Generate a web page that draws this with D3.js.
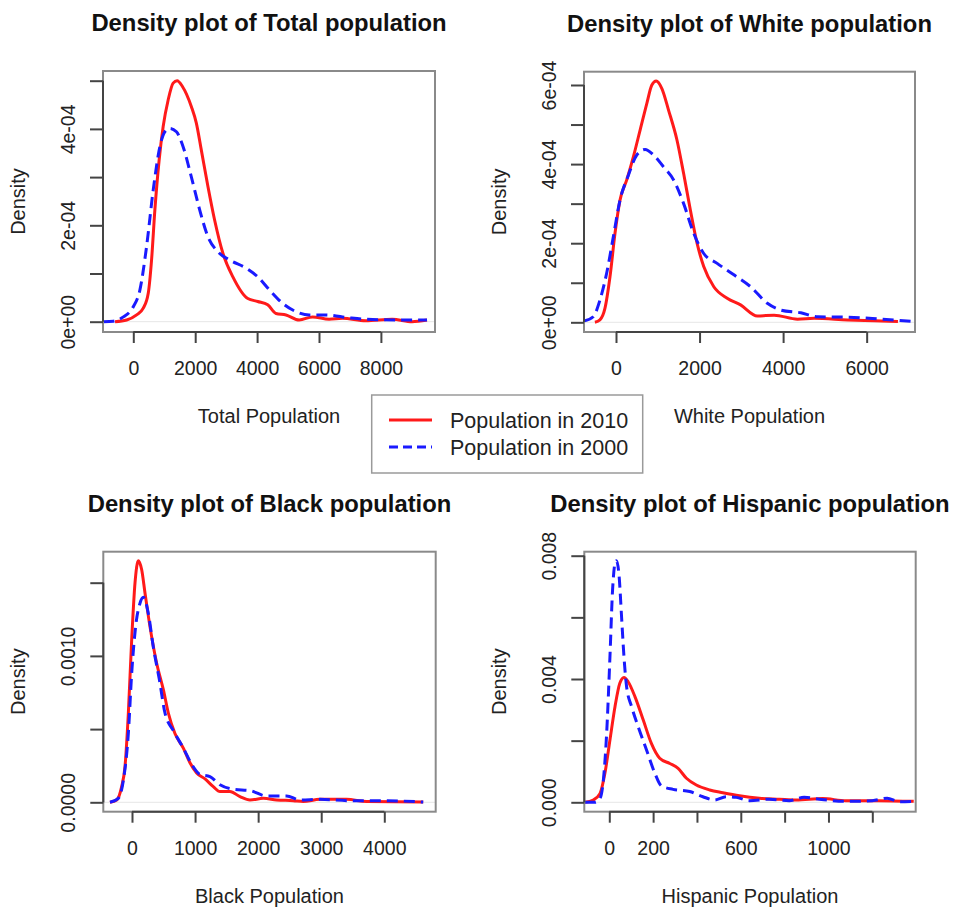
<!DOCTYPE html>
<html>
<head>
<meta charset="utf-8">
<script src="https://cdn.jsdelivr.net/npm/d3@7"></script>
<style>
  html, body { margin: 0; padding: 0; background: #fff; }
  svg { display: block; font-family: "Liberation Sans", Arial, Helvetica, sans-serif; }
</style>
</head>
<body>
<svg id="chart" width="953" height="907"></svg>
<script>
// ---------------- DATA ----------------
const seriesNames = ["Population in 2010", "Population in 2000"];

// Total population density [x, density]
const total2010 = [[-590,0],[-215,0.035e-4],[107,0.14e-4],[322,0.28e-4],[483,0.59e-4],[590,1.28e-4],[697,2.32e-4],[836,3.36e-4],[965,4.05e-4],[1126,4.6e-4],[1287,4.95e-4],[1416,5.0e-4],[1587,4.88e-4],[1877,4.46e-4],[2037,4.12e-4],[2198,3.56e-4],[2413,2.8e-4],[2627,2.11e-4],[2895,1.42e-4],[3217,0.93e-4],[3700,0.48e-4],[4021,0.42e-4],[4343,0.35e-4],[4611,0.17e-4],[4933,0.14e-4],[5362,0.035e-4],[5791,0.1e-4],[6327,0.05e-4],[6756,0.07e-4],[7507,0.02e-4],[8365,0.05e-4],[9008,0.0],[9490,0.035e-4]];
const total2000 = [[-965,0],[-643,0.01e-4],[-322,0.1e-4],[0,0.31e-4],[214,0.66e-4],[429,1.56e-4],[643,2.73e-4],[858,3.63e-4],[1019,3.94e-4],[1180,4.01e-4],[1394,3.94e-4],[1609,3.63e-4],[1877,3.0e-4],[2145,2.32e-4],[2413,1.76e-4],[2735,1.45e-4],[3110,1.28e-4],[3646,1.11e-4],[4021,0.93e-4],[4397,0.66e-4],[4826,0.38e-4],[5255,0.21e-4],[5684,0.14e-4],[6220,0.14e-4],[6971,0.08e-4],[7507,0.05e-4],[8579,0.035e-4],[9490,0.035e-4]];

// White population density
const white2010 = [[-505,0],[-385,0.06e-4],[-265,0.35e-4],[-144,1.15e-4],[-24,2.25e-4],[96,3.09e-4],[257,3.6e-4],[417,4.19e-4],[577,4.86e-4],[737,5.53e-4],[858,6.0e-4],[962,6.1e-4],[1098,5.91e-4],[1259,5.36e-4],[1459,4.61e-4],[1619,3.76e-4],[1780,2.84e-4],[1940,2.0e-4],[2100,1.41e-4],[2341,0.9e-4],[2661,0.61e-4],[2982,0.44e-4],[3383,0.16e-4],[3784,0.18e-4],[4345,0.08e-4],[4745,0.1e-4],[5547,0.06e-4],[6188,0.04e-4],[6749,0.02e-4]];
const white2000 = [[-770,0.03e-4],[-545,0.14e-4],[-385,0.56e-4],[-224,1.24e-4],[-64,2.16e-4],[96,3.09e-4],[297,3.72e-4],[497,4.23e-4],[697,4.37e-4],[898,4.23e-4],[1138,3.93e-4],[1379,3.6e-4],[1619,3.0e-4],[1860,2.25e-4],[2100,1.74e-4],[2421,1.49e-4],[2822,1.2e-4],[3222,0.9e-4],[3623,0.48e-4],[3944,0.31e-4],[4425,0.24e-4],[4826,0.14e-4],[5547,0.13e-4],[6349,0.08e-4],[7150,0.02e-4]];

// Black population density
const black2010 = [[-349,0],[-243,0.000016],[-164,0.000107],[-111,0.000244],[-58,0.000608],[-5,0.00111],[48,0.0015],[100,0.00165],[153,0.00159],[206,0.00143],[285,0.0012],[391,0.00095],[497,0.00077],[576,0.00061],[681,0.00047],[814,0.00037],[919,0.00027],[1025,0.0002],[1157,0.00016],[1289,0.000107],[1395,0.000073],[1553,0.000073],[1712,0.000039],[1870,0.000016],[2081,0.000027],[2293,0.000016],[2557,0.000011],[2715,0.000005],[2979,0.00002],[3402,0.00002],[3719,0.000005],[4617,0.000002]];
const black2000 = [[-349,0],[-217,0.000027],[-137,0.00015],[-58,0.00047],[-5,0.00088],[63,0.00122],[127,0.00136],[180,0.0014],[259,0.00129],[338,0.00106],[433,0.00084],[523,0.00061],[655,0.00049],[814,0.00037],[946,0.00026],[1078,0.00019],[1236,0.000175],[1395,0.00012],[1606,0.000089],[1870,0.00008],[2134,0.000043],[2451,0.000043],[2662,0.000016],[2979,0.00002],[3455,0.000011],[3983,0.000011],[4617,0.000002]];

// Hispanic population density
const hisp2010 = [[-111,0],[-73,0.000076],[-42,0.00029],[-20,0.00094],[3,0.00202],[26,0.0031],[48,0.00386],[67,0.00405],[86,0.00391],[117,0.00343],[155,0.00267],[192,0.00191],[230,0.00143],[276,0.00126],[314,0.0011],[352,0.00078],[397,0.00056],[458,0.0004],[518,0.00031],[594,0.00021],[685,0.00013],[776,0.0001],[852,0.000076],[973,0.00012],[1079,0.000054],[1230,0.000054],[1389,0.00003]];
const hisp2000 = [[-111,0],[-65,0],[-42,0.00013],[-27,0.00072],[-12,0.00224],[3,0.00472],[15,0.00689],[26,0.00775],[33,0.00784],[45,0.00732],[56,0.00602],[67,0.00472],[79,0.00375],[102,0.0031],[132,0.00245],[170,0.0017],[208,0.00094],[238,0.00053],[291,0.00042],[367,0.00035],[427,0.00018],[480,0.000076],[533,0.00018],[579,0.00016],[639,0.000054],[730,0.0001],[821,0.000054],[889,0.00016],[958,0.0001],[1079,0.00003],[1200,0.000054],[1268,0.00013],[1321,0.00002],[1389,0.00003]];

// Axis ticks and labels ("" = tick without label)
const totalXTicks = [0, 2000, 4000, 6000, 8000];
const totalYTicks = [0, 1e-4, 2e-4, 3e-4, 4e-4, 5e-4];
const totalYLabels = ["0e+00", "", "2e-04", "", "4e-04", ""];
const whiteXTicks = [0, 2000, 4000, 6000];
const whiteYTicks = [0, 1e-4, 2e-4, 3e-4, 4e-4, 5e-4, 6e-4];
const whiteYLabels = ["0e+00", "", "2e-04", "", "4e-04", "", "6e-04"];
const blackXTicks = [0, 1000, 2000, 3000, 4000];
const blackYTicks = [0, 0.0005, 0.0010, 0.0015];
const blackYLabels = ["0.0000", "", "0.0010", ""];
const hispXTicks = [0, 200, 400, 600, 800, 1000, 1200];
const hispXLabels = ["0", "200", "", "600", "", "1000", ""];
const hispYTicks = [0, 0.002, 0.004, 0.006, 0.008];
const hispYLabels = ["0.000", "", "0.004", "", "0.008"];

const titles = ["Density plot of Total population", "Density plot of White population",
                "Density plot of Black population", "Density plot of Hispanic population"];
const xLabels = ["Total Population", "White Population", "Black Population", "Hispanic Population"];

// ---------------- LAYOUT ----------------
const panels = [
  { title: titles[0], xlab: xLabels[0], box: [103, 71, 435, 332], xdom: [-979, 9748], ydom: [-0.2137e-4, 5.2012e-4],
    xticks: totalXTicks, xlabels: totalXTicks.map(String), yticks: totalYTicks, ylabels: totalYLabels, s10: total2010, s00: total2000 },
  { title: titles[1], xlab: xLabels[1], box: [584, 71.7, 915, 332], xdom: [-766, 7157], ydom: [-0.245e-4, 6.336e-4],
    xticks: whiteXTicks, xlabels: whiteXTicks.map(String), yticks: whiteYTicks, ylabels: whiteYLabels, s10: white2010, s00: white2000 },
  { title: titles[2], xlab: xLabels[2], box: [103.3, 551.7, 435.7, 811.7], xdom: [-455, 4815], ydom: [-0.0000642, 0.0017117],
    xticks: blackXTicks, xlabels: blackXTicks.map(String), yticks: blackYTicks, ylabels: blackYLabels, s10: black2010, s00: black2000 },
  { title: titles[3], xlab: xLabels[3], box: [584.3, 551.7, 915.7, 811.7], xdom: [-114, 1398], ydom: [-0.000305, 0.00813],
    xticks: hispXTicks, xlabels: hispXLabels, yticks: hispYTicks, ylabels: hispYLabels, s10: hisp2010, s00: hisp2000 }
];

const RED = "#ff1a1a", BLUE = "#1a1aff", TEXT = "#222";
const TICK_FS = 19.5, LAB_FS = 20;
const svg = d3.select("#chart");
svg.append("rect").attr("width", 953).attr("height", 907).attr("fill", "#fff");
const defs = svg.append("defs");

panels.forEach((p, i) => {
  const [x0, y0, x1, y1] = p.box;
  const x = d3.scaleLinear().domain(p.xdom).range([x0, x1]);
  const y = d3.scaleLinear().domain(p.ydom).range([y1, y0]);
  const g = svg.append("g");

  defs.append("clipPath").attr("id", "clip" + i)
    .append("rect").attr("x", x0).attr("y", y0).attr("width", x1 - x0).attr("height", y1 - y0);

  // zero line
  g.append("line").attr("x1", x0).attr("x2", x1).attr("y1", y(0)).attr("y2", y(0))
    .attr("stroke", "#e6e6e6").attr("stroke-width", 1);

  const line = d3.line().x(d => x(d[0])).y(d => y(d[1])).curve(d3.curveMonotoneX);
  const cg = g.append("g").attr("clip-path", `url(#clip${i})`);
  cg.append("path").datum(p.s10).attr("d", line).attr("fill", "none")
    .attr("stroke", RED).attr("stroke-width", 3).attr("stroke-linejoin", "round");
  cg.append("path").datum(p.s00).attr("d", line).attr("fill", "none")
    .attr("stroke", BLUE).attr("stroke-width", 3).attr("stroke-dasharray", "11,6");

  // box
  g.append("rect").attr("x", x0).attr("y", y0).attr("width", x1 - x0).attr("height", y1 - y0)
    .attr("fill", "none").attr("stroke", "#8a8a8a").attr("stroke-width", 2);

  // x axis
  const xa = g.append("g").attr("transform", `translate(0,${y1})`)
    .call(d3.axisBottom(x).tickValues(p.xticks).tickSize(11).tickSizeOuter(0)
      .tickFormat((d, k) => p.xlabels[k]));
  xa.select(".domain").attr("d", `M${x(p.xticks[0])},0H${x(p.xticks[p.xticks.length - 1])}`)
    .attr("stroke", "#444").attr("stroke-width", 2);
  xa.selectAll(".tick line").attr("stroke", "#444").attr("stroke-width", 2);
  xa.selectAll(".tick text").attr("y", 43).attr("dy", null).attr("fill", TEXT)
    .attr("font-size", TICK_FS).attr("font-family", "Liberation Sans, Arial, sans-serif");

  // y axis
  const ya = g.append("g").attr("transform", `translate(${x0},0)`)
    .call(d3.axisLeft(y).tickValues(p.yticks).tickSize(13).tickSizeOuter(0)
      .tickFormat((d, k) => p.ylabels[k]));
  ya.select(".domain").attr("d", `M0,${y(p.yticks[0])}V${y(p.yticks[p.yticks.length - 1])}`)
    .attr("stroke", "#444").attr("stroke-width", 2);
  ya.selectAll(".tick line").attr("stroke", "#444").attr("stroke-width", 2);
  ya.selectAll(".tick text").attr("x", null).attr("dy", null)
    .attr("transform", "translate(-28,0) rotate(-90)")
    .attr("text-anchor", "middle").attr("fill", TEXT)
    .attr("font-size", TICK_FS).attr("font-family", "Liberation Sans, Arial, sans-serif");

  // labels
  const cx = (x0 + x1) / 2, cy = (y0 + y1) / 2;
  g.append("text").attr("x", cx).attr("y", y0 - 40).attr("text-anchor", "middle")
    .attr("font-size", 23.8).attr("font-weight", "bold").attr("fill", "#111").text(p.title);
  g.append("text").attr("x", cx).attr("y", y1 + 91).attr("text-anchor", "middle")
    .attr("font-size", LAB_FS).attr("fill", TEXT).text(p.xlab);
  g.append("text").attr("transform", `translate(${x0 - 78},${cy}) rotate(-90)`)
    .attr("text-anchor", "middle").attr("font-size", LAB_FS).attr("fill", TEXT).text("Density");
});

// legend
const lg = svg.append("g");
lg.append("rect").attr("x", 371.7).attr("y", 395).attr("width", 271).attr("height", 78)
  .attr("fill", "#fff").attr("stroke", "#9a9a9a").attr("stroke-width", 1.5);
const legY = d3.scalePoint().domain(seriesNames).range([420, 447]);
seriesNames.forEach((n, k) => {
  lg.append("line").attr("x1", 389).attr("x2", 432).attr("y1", legY(n)).attr("y2", legY(n))
    .attr("stroke", k === 0 ? RED : BLUE).attr("stroke-width", 3)
    .attr("stroke-dasharray", k === 0 ? null : "9,5");
  lg.append("text").attr("x", 450).attr("y", legY(n) + 7.5).attr("font-size", 21.5)
    .attr("fill", TEXT).text(n);
});
</script>
</body>
</html>
